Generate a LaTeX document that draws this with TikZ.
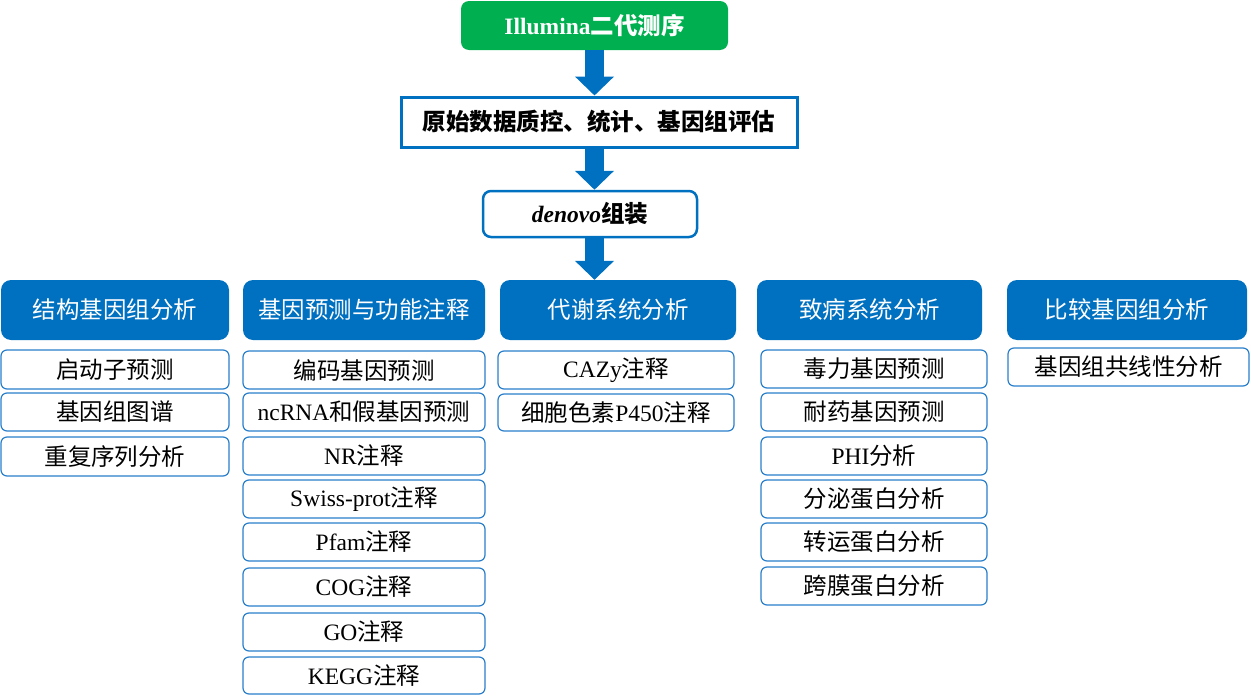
\documentclass[tikz,border=0pt]{standalone}
\usepackage{fontspec}
\setmainfont{Liberation Serif}
\newfontfamily\cjk{Noto Sans CJK SC}
\usetikzlibrary{arrows.meta,calc}
\definecolor{mblue}{HTML}{0070C0}
\definecolor{lblue}{HTML}{2A7FCC}
\definecolor{mgreen}{HTML}{00B050}
\newcommand{\zh}[1]{{\cjk #1}}
\newcommand{\bx}[7]{\node[#6, minimum width={#4-#2}, minimum height={#5-#3}] (#1) at ({(#2+#4)/2},{(#3+#5)/2}) {#7};}
\begin{document}
\begin{tikzpicture}[x=1pt,y=-1pt,
  txt/.style={font=\fontsize{23.5}{27}\selectfont, inner sep=0pt, align=center},
  topbox/.style={txt, fill=mgreen, rounded corners=8pt, text=white},
  qcbox/.style={txt, draw=mblue, line width=3pt, fill=white},
  dnbox/.style={txt, draw=mblue, line width=2.5pt, rounded corners=8pt, fill=white},
  cat/.style={txt, fill=mblue, rounded corners=10pt, text=white},
  sub/.style={txt, draw=lblue, line width=1.2pt, rounded corners=6pt, fill=white},
  fat/.style={draw=mblue, line width=19pt, -{Triangle[width=38pt,length=19pt]}, shorten <=-0.5pt}
]
\useasboundingbox (0,0) rectangle (1251,696);
\bx{top}{461}{1}{728}{50}{topbox}{\bfseries Illumina\zh{\bfseries 二代测序}}
\bx{qc}{401}{97}{797}{147}{qcbox}{\zh{\bfseries 原始数据质控、统计、基因组评估}}
\bx{dn}{483}{191}{697}{237}{dnbox}{\bfseries\itshape denovo\zh{\bfseries 组装}}

\bx{c1}{1}{280}{229}{340}{cat}{\zh{结构基因组分析}}
\bx{c2}{243}{280}{485}{340}{cat}{\zh{基因预测与功能注释}}
\bx{c3}{500}{280}{736}{340}{cat}{\zh{代谢系统分析}}
\bx{c4}{757}{280}{982}{340}{cat}{\zh{致病系统分析}}
\bx{c5}{1007}{280}{1247}{340}{cat}{\zh{比较基因组分析}}

\draw[fat] (top.south) -- (top.south |- qc.north);
\draw[fat] (qc.south -| top.south) -- (top.south |- dn.north);
\draw[fat] (dn.south -| top.south) -- (top.south |- c3.north);

% column 1
\bx{a1}{1}{350}{229}{389}{sub}{\zh{启动子预测}}
\bx{a2}{1}{393}{229}{431}{sub}{\zh{基因组图谱}}
\bx{a3}{1}{437}{229}{476}{sub}{\zh{重复序列分析}}
% column 2
\bx{b1}{243}{351}{485}{389}{sub}{\zh{编码基因预测}}
\bx{b2}{243}{393}{485}{431}{sub}{ncRNA\zh{和假基因预测}}
\bx{b3}{243}{437}{485}{475}{sub}{NR\zh{注释}}
\bx{b4}{243}{480}{485}{518}{sub}{Swiss-prot\zh{注释}}
\bx{b5}{243}{523}{485}{561}{sub}{Pfam\zh{注释}}
\bx{b6}{243}{568}{485}{606}{sub}{COG\zh{注释}}
\bx{b7}{243}{613}{485}{651}{sub}{GO\zh{注释}}
\bx{b8}{243}{657}{485}{694}{sub}{KEGG\zh{注释}}
% column 3
\bx{d1}{498}{351}{734}{389}{sub}{CAZy\zh{注释}}
\bx{d2}{498}{394}{734}{431}{sub}{\zh{细胞色素}P450\zh{注释}}
% column 4
\bx{e1}{761}{350}{987}{388}{sub}{\zh{毒力基因预测}}
\bx{e2}{761}{393}{987}{431}{sub}{\zh{耐药基因预测}}
\bx{e3}{761}{437}{987}{475}{sub}{PHI\zh{分析}}
\bx{e4}{761}{480}{987}{518}{sub}{\zh{分泌蛋白分析}}
\bx{e5}{761}{523}{987}{561}{sub}{\zh{转运蛋白分析}}
\bx{e6}{761}{567}{987}{605}{sub}{\zh{跨膜蛋白分析}}
% column 5
\bx{f1}{1008}{348}{1249}{386}{sub}{\zh{基因组共线性分析}}
\end{tikzpicture}
\end{document}
